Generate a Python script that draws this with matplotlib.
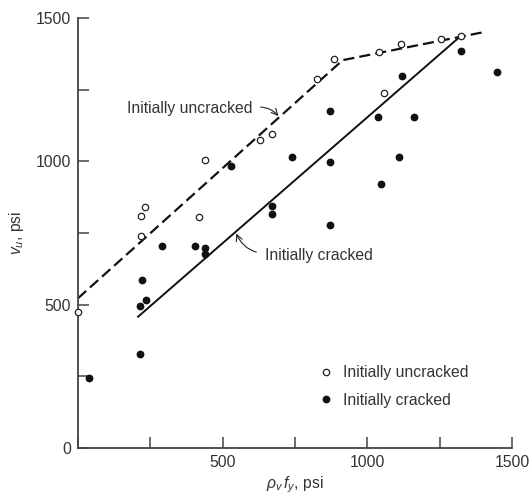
import numpy as np
import matplotlib
matplotlib.use("Agg")
import matplotlib.pyplot as plt
from matplotlib.ticker import FuncFormatter

# data (psi)
uncracked_x = [0, 218, 218, 231, 417, 438, 628, 671, 825, 884, 1039, 1059, 1115, 1256, 1325]
uncracked_y = [473, 741, 809, 842, 807, 1004, 1074, 1095, 1286, 1356, 1382, 1237, 1408, 1425, 1437]

cracked_x = [38, 214, 214, 220, 234, 292, 405, 440, 440, 530, 670, 670, 740,
             872, 872, 872, 1037, 1048, 1108, 1120, 1162, 1323, 1449]
cracked_y = [245, 328, 495, 585, 516, 706, 703, 699, 677, 985, 845, 815, 1016,
             1175, 997, 778, 1153, 920, 1016, 1297, 1153, 1385, 1313]

# design lines
uncr_line_x = [0, 915, 1409]
uncr_line_y = [522, 1353, 1452]
cr_line_x = [208, 1317]
cr_line_y = [458, 1432]

ticks = [0, 250, 500, 750, 1000, 1250, 1500]

plt.rcParams['font.family'] = ['Liberation Sans', 'DejaVu Sans']
plt.rcParams['mathtext.fontset'] = 'custom'
plt.rcParams['mathtext.rm'] = 'Liberation Sans'
plt.rcParams['mathtext.it'] = 'Liberation Sans:italic'

fs = 11.3
tc = '#333333'

fig = plt.figure(figsize=(5.30, 4.97), dpi=100)
ax = fig.add_axes([0.147, 0.0986, 0.819, 0.8652])

ax.plot(uncr_line_x, uncr_line_y, color='#111111', lw=1.6,
        dashes=(5.0, 2.3), solid_capstyle='butt')
ax.plot(cr_line_x, cr_line_y, color='#111111', lw=1.4)

ax.plot(uncracked_x, uncracked_y, 'o', ms=4.6, mfc='white', mec='#222222',
        mew=0.9, clip_on=False, zorder=4, label='Initially uncracked')
ax.plot(cracked_x, cracked_y, 'o', ms=4.6, mfc='#111111', mec='#111111',
        clip_on=False, zorder=4, label='Initially cracked')

ax.annotate('Initially uncracked', xy=(693, 1158), xytext=(603, 1186),
            ha='right', va='center', fontsize=fs, color=tc,
            arrowprops=dict(arrowstyle='->', color='#222222', lw=0.8,
                            shrinkA=4, shrinkB=0, relpos=(1.0, 0.5),
                            connectionstyle='arc3,rad=-0.3'))
ax.annotate('Initially cracked', xy=(547, 748), xytext=(645, 673),
            ha='left', va='center', fontsize=fs, color=tc,
            arrowprops=dict(arrowstyle='->', color='#222222', lw=0.8,
                            shrinkA=4, shrinkB=0, relpos=(0.0, 0.6),
                            connectionstyle='arc3,rad=-0.3'))

ax.set_xlim(0, 1500)
ax.set_ylim(0, 1500)
ax.set_xticks(ticks)
ax.set_yticks(ticks)
ax.xaxis.set_major_formatter(FuncFormatter(lambda v, p: '%d' % v if v % 500 == 0 and v > 0 else ''))
ax.yaxis.set_major_formatter(FuncFormatter(lambda v, p: '%d' % v if v % 500 == 0 else ''))
ax.tick_params(direction='in', length=8, width=1.1, color='#444444',
               labelsize=fs, labelcolor=tc, pad=5)

for s in ['top', 'right']:
    ax.spines[s].set_visible(False)
for s in ['left', 'bottom']:
    ax.spines[s].set_color('#444444')
    ax.spines[s].set_linewidth(1.3)

ax.set_xlabel(r'$\rho_v\, f_y$, psi', fontsize=fs, color=tc, labelpad=3)
ax.set_ylabel(r'$v_u$, psi', fontsize=fs, color=tc, labelpad=7)

ax.legend(loc='upper left', bbox_to_anchor=(0.553, 0.192), frameon=False,
          fontsize=fs, handlelength=1.0, handletextpad=0.6, borderpad=0,
          borderaxespad=0, labelspacing=0.8, labelcolor=tc, numpoints=1)

fig.savefig('out.png', dpi=100)
